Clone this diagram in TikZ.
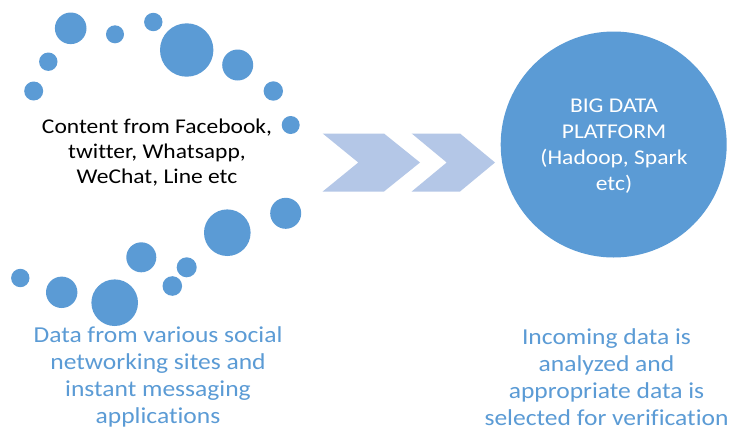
\documentclass[tikz,border=0pt]{standalone}
\usepackage{fontspec}
\setmainfont{Carlito}[Ligatures=NoCommon]
\usepackage{tikz}
\usetikzlibrary{positioning}
\definecolor{bubbleblue}{HTML}{5B9BD5}
\definecolor{chevronblue}{HTML}{B4C7E7}

\begin{document}
\begin{tikzpicture}[
  x=1pt, y=-1pt,
  every node/.style={font=\fontsize{21}{24.7}\selectfont, align=center, inner sep=0pt},
  wide/.style   ={xscale=1.12, transform shape},
  bubble/.style ={circle, fill=bubbleblue, draw=none},
  chevron/.style={fill=chevronblue, draw=none},
  caption/.style={wide, font=\fontsize{22.8}{27.2}\selectfont, text=bubbleblue},
  platform/.style={circle, fill=bubbleblue, minimum size=226pt},
]
\useasboundingbox[fill=white] (0,0) rectangle (732,432);

% Upper arc of bubbles
\foreach \x/\y/\r [count=\i] in {33.7/91/9.5, 48.3/61.7/9.2, 70.7/28.3/15.8,
    115/34.3/9, 153.3/22/9.2, 186.7/50/26.7, 237.7/65/15.5, 273.3/91/9.7,
    290.7/125/9}
  \node[bubble, minimum size=2*\r] (up\i) at (\x,\y) {};

% Lower arc of bubbles
\foreach \x/\y/\r [count=\i] in {20.3/278/9.2, 61.7/292.3/15.7, 114.7/302.7/23.3,
    141.3/257.3/15, 172.3/286/9.8, 186.7/267.3/10, 227.3/232.7/23.3,
    285.7/213.3/15.5}
  \node[bubble, minimum size=2*\r] (low\i) at (\x,\y) {};

% Sources
\node[wide] (src) at (157,152.5) {Content from Facebook,\\twitter, Whatsapp,\\WeChat, Line etc};

% Chevrons
\fill[chevron] (322.7,133.5) -- (384,133.5) -- (420,162.5) -- (384,191.5)
  -- (322.7,191.5) -- (358.3,162.5) -- cycle;
\fill[chevron] (411.7,133.5) -- (460,133.5) -- (495,162.5) -- (460,191.5)
  -- (411.7,191.5) -- (446.7,162.5) -- cycle;

% Platform
\node[platform] (bdp) at (613.7,144.5) {};
\node[wide, text=white, font=\fontsize{21}{26}\selectfont] (bdptext) at (614,146)
  {BIG DATA\\PLATFORM\\(Hadoop, Spark\\etc)};

% Captions
\node[caption] (capl) at (158,377) {Data from various social\\networking sites and\\instant messaging\\applications};
\node[caption] (capr) at (606.5,377) {Incoming data is\\analyzed and\\appropriate data is\\selected for verification};

\end{tikzpicture}
\end{document}
